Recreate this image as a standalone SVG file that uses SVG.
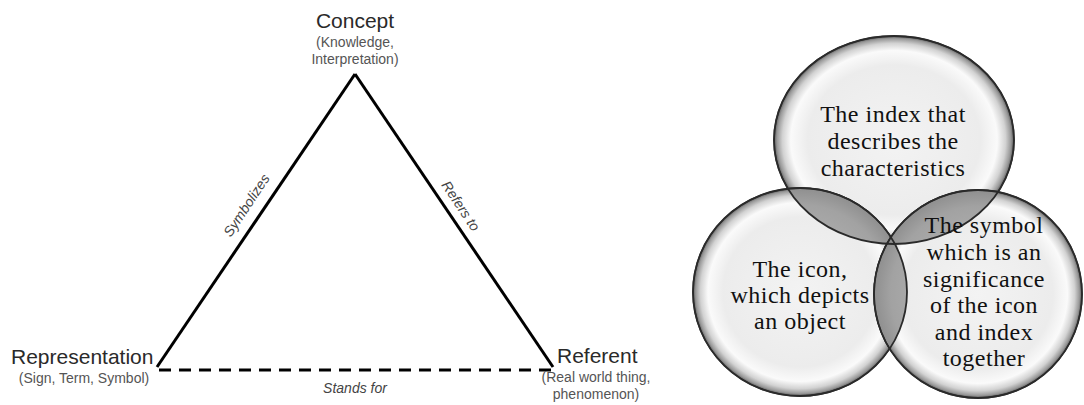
<svg xmlns="http://www.w3.org/2000/svg" width="1084" height="405" viewBox="0 0 1084 405">
<defs>
<style>
.big{font-family:"Liberation Sans",Arial,sans-serif;font-size:21px;fill:#2a2a2a}
.small{font-family:"Liberation Sans",Arial,sans-serif;font-size:14px;fill:#555}
.lbl{font-family:"Liberation Sans",Arial,sans-serif;font-size:14px;font-style:italic;fill:#444}
.edge{stroke:#000;stroke-width:3;fill:none}
.dash{stroke:#000;stroke-width:3;fill:none;stroke-dasharray:12 8}
.bub{fill:url(#bubble);stroke:#333;stroke-width:1.5}
.lens{fill:url(#lensg);stroke:#333;stroke-width:1.5}
.ring{fill:none;stroke:#2a2a2a;stroke-width:1.8}
.vt{font-family:"Liberation Serif","Times New Roman",serif;font-size:24px;letter-spacing:0.5px;fill:#111;text-anchor:middle}
</style>
<radialGradient id="bubble" cx="0.5" cy="0.5" r="0.5">
<stop offset="0" stop-color="#f3f3f3"/>
<stop offset="0.72" stop-color="#ececec"/>
<stop offset="0.86" stop-color="#fafafa"/>
<stop offset="0.93" stop-color="#d2d2d2"/>
<stop offset="0.975" stop-color="#999"/>
<stop offset="1" stop-color="#5a5a5a"/>
</radialGradient>
<radialGradient id="lensg" cx="0.5" cy="0.5" r="0.6">
<stop offset="0" stop-color="#c0c0c0"/>
<stop offset="0.7" stop-color="#a2a2a2"/>
<stop offset="1" stop-color="#777"/>
</radialGradient>
<clipPath id="cTop"><ellipse cx="894" cy="140" rx="120" ry="104"/></clipPath>
<clipPath id="cLeft"><ellipse cx="800" cy="292" rx="107" ry="104"/></clipPath>
</defs>
<rect width="1084" height="405" fill="#fff"/>

<g id="connectors">
<line class="edge" x1="157" y1="367" x2="355" y2="74"/>
<line class="edge" x1="355" y1="74" x2="553" y2="367"/>
<line class="dash" x1="159" y1="370" x2="553" y2="370"/>
<text class="lbl" text-anchor="middle" transform="translate(250.5,207.9) rotate(-56.5)">Symbolizes</text>
<text class="lbl" text-anchor="middle" transform="translate(456.8,208.7) rotate(56.3)">Refers to</text>
<text class="lbl" x="355" y="393" text-anchor="middle">Stands for</text>
</g>

<g id="concept">
<text class="big" x="355" y="28" text-anchor="middle">Concept</text>
<text class="small" x="355" y="47" text-anchor="middle">(Knowledge,</text>
<text class="small" x="355" y="64" text-anchor="middle">Interpretation)</text>
</g>

<g id="representation">
<text class="big" x="11" y="364">Representation</text>
<text class="small" x="84" y="383" text-anchor="middle">(Sign, Term, Symbol)</text>
</g>

<g id="referent">
<text class="big" x="557" y="363">Referent</text>
<text class="small" x="596" y="382" text-anchor="middle">(Real world thing,</text>
<text class="small" x="596" y="399" text-anchor="middle">phenomenon)</text>
</g>

<g id="venn-shapes">
<ellipse class="bub" cx="894" cy="140" rx="120" ry="104"/>
<ellipse class="bub" cx="800" cy="292" rx="107" ry="104"/>
<ellipse class="bub" cx="978" cy="294" rx="104" ry="104"/>
<g clip-path="url(#cTop)"><ellipse class="lens" cx="800" cy="292" rx="107" ry="104"/></g>
<g clip-path="url(#cTop)"><ellipse class="lens" cx="978" cy="294" rx="104" ry="104"/></g>
<g clip-path="url(#cLeft)"><ellipse class="lens" cx="978" cy="294" rx="104" ry="104"/></g>
<ellipse class="ring" cx="894" cy="140" rx="120" ry="104"/>
<ellipse class="ring" cx="800" cy="292" rx="107" ry="104"/>
<ellipse class="ring" cx="978" cy="294" rx="104" ry="104"/>
</g>

<g id="index">
<text class="vt" x="893" y="122">The index that</text>
<text class="vt" x="893" y="149">describes the</text>
<text class="vt" x="893" y="176">characteristics</text>
</g>

<g id="icon">
<text class="vt" x="800" y="277">The icon,</text>
<text class="vt" x="800" y="303">which depicts</text>
<text class="vt" x="800" y="329">an object</text>
</g>

<g id="symbol">
<text class="vt" x="984" y="233">The symbol</text>
<text class="vt" x="984" y="260">which is an</text>
<text class="vt" x="984" y="287">significance</text>
<text class="vt" x="984" y="313">of the icon</text>
<text class="vt" x="984" y="340">and index</text>
<text class="vt" x="984" y="366">together</text>
</g>
</svg>
